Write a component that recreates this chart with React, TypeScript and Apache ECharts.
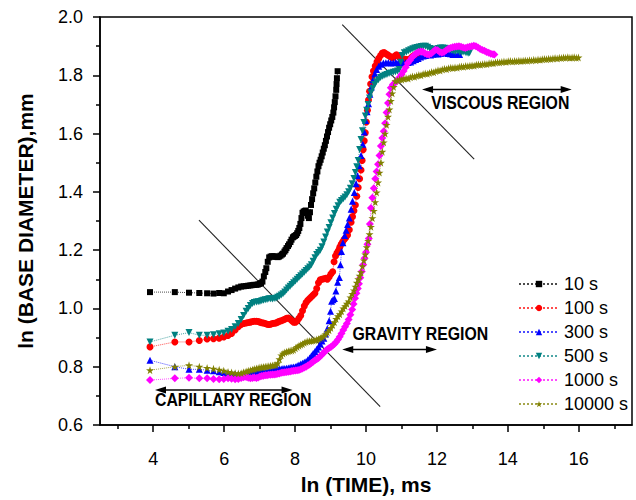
import React, { useEffect, useRef } from "react";
import * as echarts from "echarts";

const seriesNames = ["10 s", "100 s", "300 s", "500 s", "1000 s", "10000 s"];
const seriesColors = ["#000000", "#ff0000", "#0000ff", "#008080", "#ff00ff", "#808000"];

const xMajorTicks = [4, 6, 8, 10, 12, 14, 16];
const xMinorTicks = [3, 5, 7, 9, 11, 13, 15, 17];

// ln(time) vs ln(base diameter)
const s10 = [[3.91,1.056],[4.61,1.056],[5.01,1.054],[5.30,1.053],[5.52,1.052],[5.70,1.051],[5.86,1.053],[5.99,1.052],[6.11,1.058],[6.21,1.063],[6.31,1.068],[6.40,1.072],[6.48,1.075],[6.55,1.076],[6.62,1.077],[6.68,1.078],[6.74,1.079],[6.80,1.080],[6.85,1.081],[6.91,1.081],[6.95,1.082],[7.00,1.084],[7.04,1.087],[7.08,1.092],[7.12,1.110],[7.16,1.125],[7.19,1.138],[7.23,1.160],[7.27,1.175],[7.31,1.178],[7.35,1.179],[7.39,1.179],[7.43,1.178],[7.47,1.177],[7.51,1.176],[7.55,1.178],[7.59,1.181],[7.63,1.185],[7.66,1.188],[7.70,1.195],[7.73,1.200],[7.76,1.207],[7.80,1.214],[7.83,1.220],[7.87,1.228],[7.90,1.236],[7.94,1.244],[7.97,1.247],[8.00,1.249],[8.03,1.252],[8.06,1.258],[8.09,1.266],[8.12,1.276],[8.15,1.290],[8.18,1.310],[8.21,1.328],[8.24,1.332],[8.27,1.334],[8.30,1.336],[8.33,1.328],[8.36,1.318],[8.39,1.310],[8.42,1.330],[8.45,1.355],[8.48,1.375],[8.51,1.395],[8.54,1.412],[8.57,1.432],[8.60,1.452],[8.63,1.470],[8.66,1.488],[8.69,1.500],[8.72,1.510],[8.75,1.522],[8.78,1.535],[8.81,1.548],[8.84,1.560],[8.87,1.575],[8.90,1.590],[8.93,1.605],[8.96,1.620],[8.99,1.632],[9.02,1.645],[9.05,1.657],[9.08,1.672],[9.10,1.690],[9.12,1.708],[9.14,1.728],[9.16,1.750],[9.17,1.770],[9.18,1.790],[9.20,1.814]];

const s100 = [[3.91,0.868],[4.61,0.885],[5.01,0.885],[5.30,0.890],[5.52,0.895],[5.70,0.896],[5.86,0.898],[5.99,0.902],[6.11,0.907],[6.21,0.914],[6.31,0.926],[6.40,0.937],[6.48,0.945],[6.55,0.948],[6.62,0.950],[6.68,0.952],[6.74,0.953],[6.80,0.955],[6.85,0.956],[6.91,0.956],[6.96,0.955],[7.01,0.953],[7.06,0.951],[7.11,0.950],[7.16,0.948],[7.21,0.946],[7.26,0.945],[7.31,0.946],[7.36,0.948],[7.41,0.949],[7.46,0.950],[7.51,0.953],[7.56,0.956],[7.61,0.958],[7.66,0.960],[7.71,0.963],[7.76,0.966],[7.81,0.967],[7.86,0.964],[7.91,0.958],[7.96,0.953],[8.01,0.953],[8.06,0.958],[8.11,0.966],[8.16,0.976],[8.21,0.992],[8.26,1.008],[8.31,1.020],[8.36,1.028],[8.41,1.034],[8.46,1.040],[8.51,1.046],[8.56,1.052],[8.61,1.068],[8.66,1.088],[8.71,1.098],[8.76,1.100],[8.81,1.102],[8.86,1.103],[8.91,1.100],[8.96,1.108],[9.01,1.118],[9.06,1.126],[9.10,1.160],[9.14,1.180],[9.18,1.190],[9.22,1.198],[9.26,1.210],[9.30,1.220],[9.34,1.228],[9.38,1.236],[9.43,1.243],[9.48,1.252],[9.53,1.270],[9.58,1.296],[9.62,1.315],[9.66,1.335],[9.70,1.355],[9.74,1.385],[9.78,1.415],[9.82,1.445],[9.86,1.475],[9.89,1.508],[9.92,1.545],[9.95,1.575],[9.98,1.603],[10.01,1.640],[10.04,1.680],[10.07,1.715],[10.10,1.745],[10.13,1.770],[10.17,1.795],[10.21,1.815],[10.26,1.832],[10.31,1.846],[10.36,1.858],[10.41,1.868],[10.46,1.876],[10.51,1.878],[10.56,1.874],[10.61,1.870],[10.66,1.866],[10.71,1.862],[10.76,1.860],[10.81,1.866],[10.86,1.870],[10.91,1.866],[10.96,1.860],[11.01,1.856],[11.06,1.854],[11.11,1.855],[11.16,1.853],[11.21,1.854],[11.26,1.858],[11.31,1.864],[11.36,1.869],[11.41,1.872],[11.46,1.870]];

const s300 = [[3.91,0.822],[4.61,0.800],[5.01,0.791],[5.30,0.791],[5.52,0.788],[5.70,0.786],[5.86,0.783],[5.99,0.780],[6.11,0.778],[6.21,0.777],[6.31,0.775],[6.40,0.773],[6.48,0.774],[6.55,0.776],[6.62,0.777],[6.68,0.778],[6.74,0.779],[6.80,0.780],[6.85,0.781],[6.91,0.782],[6.96,0.782],[7.01,0.781],[7.06,0.783],[7.11,0.782],[7.16,0.782],[7.21,0.783],[7.26,0.785],[7.31,0.786],[7.36,0.788],[7.41,0.790],[7.46,0.791],[7.51,0.792],[7.56,0.793],[7.61,0.792],[7.66,0.794],[7.71,0.794],[7.76,0.795],[7.81,0.796],[7.86,0.797],[7.91,0.798],[7.96,0.799],[8.01,0.800],[8.06,0.803],[8.11,0.806],[8.16,0.809],[8.21,0.812],[8.26,0.815],[8.31,0.818],[8.36,0.824],[8.41,0.830],[8.46,0.838],[8.51,0.845],[8.56,0.852],[8.61,0.860],[8.66,0.868],[8.71,0.878],[8.76,0.888],[8.81,0.898],[8.86,0.912],[8.91,0.930],[8.96,0.958],[9.00,0.990],[9.03,1.025],[9.07,1.030],[9.11,1.034],[9.15,1.060],[9.20,1.090],[9.25,1.106],[9.28,1.150],[9.31,1.195],[9.35,1.225],[9.40,1.250],[9.44,1.268],[9.48,1.288],[9.53,1.310],[9.58,1.340],[9.62,1.368],[9.67,1.398],[9.72,1.428],[9.76,1.455],[9.81,1.490],[9.86,1.525],[9.91,1.563],[9.95,1.605],[9.99,1.645],[10.03,1.675],[10.07,1.702],[10.11,1.735],[10.15,1.760],[10.20,1.785],[10.25,1.805],[10.30,1.820],[10.36,1.831],[10.42,1.838],[10.49,1.842],[10.56,1.843],[10.63,1.844],[10.70,1.842],[10.77,1.843],[10.84,1.845],[10.91,1.843],[10.98,1.841],[11.05,1.843],[11.12,1.844],[11.19,1.844],[11.26,1.846],[11.33,1.850],[11.40,1.854],[11.47,1.858],[11.54,1.863],[11.61,1.866],[11.68,1.868],[11.75,1.871],[11.82,1.870],[11.89,1.872],[11.96,1.874],[12.03,1.873],[12.10,1.875],[12.17,1.877],[12.24,1.877],[12.31,1.875],[12.38,1.874],[12.45,1.871],[12.52,1.871],[12.59,1.872],[12.64,1.871]];

const s500 = [[3.91,0.885],[4.61,0.908],[5.01,0.917],[5.30,0.908],[5.52,0.908],[5.70,0.910],[5.86,0.913],[5.99,0.916],[6.11,0.922],[6.21,0.928],[6.31,0.937],[6.40,0.948],[6.48,0.962],[6.55,0.976],[6.62,0.990],[6.68,1.000],[6.74,1.010],[6.80,1.017],[6.85,1.020],[6.91,1.022],[6.96,1.023],[7.01,1.024],[7.06,1.026],[7.11,1.028],[7.16,1.030],[7.21,1.031],[7.26,1.033],[7.31,1.033],[7.36,1.032],[7.41,1.034],[7.46,1.035],[7.51,1.038],[7.56,1.042],[7.61,1.046],[7.66,1.050],[7.71,1.056],[7.76,1.063],[7.81,1.070],[7.86,1.076],[7.91,1.082],[7.96,1.088],[8.01,1.094],[8.06,1.100],[8.11,1.106],[8.16,1.112],[8.21,1.118],[8.26,1.124],[8.31,1.130],[8.36,1.136],[8.41,1.142],[8.46,1.150],[8.51,1.162],[8.56,1.174],[8.61,1.185],[8.66,1.192],[8.71,1.200],[8.76,1.212],[8.81,1.228],[8.86,1.245],[8.91,1.262],[8.96,1.278],[9.01,1.294],[9.06,1.310],[9.11,1.326],[9.16,1.340],[9.21,1.352],[9.26,1.364],[9.31,1.370],[9.36,1.376],[9.41,1.382],[9.46,1.390],[9.51,1.400],[9.56,1.412],[9.61,1.428],[9.66,1.446],[9.70,1.466],[9.74,1.486],[9.78,1.508],[9.82,1.545],[9.86,1.580],[9.90,1.610],[9.94,1.638],[9.98,1.660],[10.02,1.680],[10.06,1.700],[10.10,1.722],[10.14,1.740],[10.19,1.755],[10.24,1.768],[10.29,1.778],[10.35,1.785],[10.41,1.792],[10.47,1.797],[10.53,1.800],[10.59,1.803],[10.65,1.806],[10.71,1.808],[10.77,1.810],[10.83,1.812],[10.89,1.815],[10.94,1.820],[10.98,1.845],[11.02,1.868],[11.08,1.877],[11.14,1.880],[11.20,1.884],[11.26,1.888],[11.32,1.891],[11.38,1.894],[11.44,1.895],[11.50,1.897],[11.56,1.899],[11.62,1.900],[11.68,1.900],[11.74,1.896],[11.80,1.892],[11.86,1.889],[11.92,1.888],[11.98,1.889],[12.04,1.892],[12.10,1.894],[12.16,1.894],[12.22,1.893],[12.28,1.892],[12.34,1.889],[12.40,1.886],[12.46,1.883],[12.52,1.882],[12.58,1.884],[12.64,1.880],[12.70,1.878],[12.76,1.880],[12.82,1.877],[12.88,1.876],[12.92,1.877]];

const s1000 = [[3.91,0.754],[4.61,0.760],[5.01,0.762],[5.30,0.760],[5.52,0.760],[5.70,0.758],[5.86,0.757],[5.99,0.758],[6.11,0.760],[6.21,0.759],[6.31,0.757],[6.40,0.758],[6.48,0.761],[6.55,0.764],[6.62,0.765],[6.68,0.762],[6.74,0.760],[6.80,0.761],[6.85,0.763],[6.91,0.761],[6.96,0.763],[7.01,0.766],[7.06,0.768],[7.11,0.769],[7.16,0.771],[7.21,0.771],[7.26,0.772],[7.31,0.772],[7.36,0.773],[7.41,0.773],[7.46,0.774],[7.51,0.776],[7.56,0.777],[7.61,0.779],[7.66,0.780],[7.71,0.781],[7.76,0.782],[7.81,0.783],[7.86,0.784],[7.91,0.785],[7.96,0.786],[8.01,0.787],[8.06,0.788],[8.11,0.789],[8.16,0.791],[8.21,0.794],[8.26,0.797],[8.31,0.800],[8.36,0.804],[8.41,0.808],[8.46,0.813],[8.51,0.817],[8.56,0.822],[8.61,0.826],[8.66,0.830],[8.71,0.836],[8.76,0.842],[8.81,0.848],[8.86,0.855],[8.91,0.860],[8.96,0.864],[9.01,0.868],[9.06,0.873],[9.11,0.878],[9.16,0.885],[9.21,0.893],[9.26,0.903],[9.31,0.914],[9.36,0.926],[9.41,0.937],[9.46,0.948],[9.51,0.962],[9.56,0.978],[9.61,0.996],[9.65,1.015],[9.69,1.035],[9.73,1.052],[9.77,1.068],[9.80,1.085],[9.84,1.105],[9.88,1.127],[9.92,1.150],[9.96,1.172],[10.00,1.193],[10.04,1.220],[10.08,1.240],[10.11,1.290],[10.14,1.345],[10.18,1.380],[10.22,1.412],[10.26,1.445],[10.30,1.470],[10.34,1.495],[10.38,1.525],[10.42,1.557],[10.46,1.585],[10.50,1.608],[10.54,1.635],[10.58,1.672],[10.62,1.705],[10.66,1.735],[10.70,1.757],[10.76,1.768],[10.82,1.774],[10.88,1.782],[10.94,1.792],[11.00,1.803],[11.06,1.815],[11.12,1.828],[11.18,1.842],[11.24,1.852],[11.30,1.862],[11.36,1.870],[11.42,1.876],[11.48,1.880],[11.54,1.882],[11.60,1.881],[11.66,1.876],[11.72,1.872],[11.78,1.871],[11.84,1.875],[11.90,1.882],[11.96,1.888],[12.02,1.886],[12.08,1.880],[12.14,1.877],[12.20,1.880],[12.26,1.886],[12.32,1.891],[12.38,1.894],[12.44,1.896],[12.50,1.898],[12.56,1.899],[12.62,1.900],[12.68,1.898],[12.74,1.895],[12.80,1.894],[12.86,1.896],[12.92,1.898],[12.98,1.900],[13.04,1.901],[13.10,1.900],[13.16,1.895],[13.22,1.890],[13.28,1.887],[13.34,1.884],[13.40,1.880],[13.46,1.877],[13.52,1.874],[13.58,1.872],[13.62,1.871]];

const s10000 = [[3.91,0.788],[4.61,0.800],[5.01,0.805],[5.30,0.800],[5.52,0.796],[5.70,0.793],[5.86,0.790],[5.99,0.786],[6.11,0.782],[6.21,0.780],[6.31,0.778],[6.40,0.777],[6.48,0.778],[6.55,0.781],[6.62,0.784],[6.68,0.786],[6.74,0.788],[6.80,0.790],[6.85,0.792],[6.91,0.794],[6.96,0.795],[7.01,0.797],[7.06,0.798],[7.11,0.799],[7.16,0.800],[7.21,0.801],[7.26,0.802],[7.31,0.803],[7.36,0.804],[7.41,0.805],[7.46,0.806],[7.51,0.812],[7.56,0.826],[7.61,0.839],[7.66,0.845],[7.71,0.849],[7.76,0.851],[7.81,0.853],[7.86,0.855],[7.91,0.856],[7.96,0.858],[8.01,0.863],[8.06,0.868],[8.11,0.872],[8.16,0.875],[8.21,0.878],[8.26,0.882],[8.31,0.885],[8.36,0.887],[8.41,0.888],[8.46,0.889],[8.51,0.890],[8.56,0.891],[8.61,0.893],[8.66,0.895],[8.71,0.898],[8.76,0.901],[8.81,0.905],[8.86,0.911],[8.91,0.918],[8.96,0.925],[9.01,0.933],[9.06,0.943],[9.11,0.953],[9.16,0.964],[9.21,0.973],[9.26,0.980],[9.31,0.990],[9.36,1.000],[9.41,1.008],[9.46,1.016],[9.51,1.024],[9.56,1.038],[9.61,1.050],[9.66,1.062],[9.70,1.075],[9.74,1.088],[9.78,1.100],[9.82,1.112],[9.86,1.124],[9.90,1.145],[9.94,1.165],[9.98,1.185],[10.02,1.210],[10.06,1.232],[10.10,1.255],[10.14,1.280],[10.18,1.310],[10.22,1.335],[10.26,1.365],[10.30,1.398],[10.34,1.432],[10.38,1.466],[10.42,1.500],[10.46,1.538],[10.50,1.570],[10.54,1.600],[10.58,1.630],[10.62,1.658],[10.66,1.683],[10.70,1.712],[10.74,1.738],[10.78,1.760],[10.83,1.780],[10.89,1.782],[10.95,1.786],[11.01,1.785],[11.07,1.788],[11.13,1.790],[11.19,1.789],[11.25,1.793],[11.31,1.796],[11.37,1.795],[11.43,1.798],[11.49,1.801],[11.55,1.800],[11.61,1.804],[11.67,1.806],[11.73,1.805],[11.79,1.808],[11.85,1.811],[11.91,1.810],[11.97,1.814],[12.03,1.817],[12.09,1.816],[12.15,1.820],[12.21,1.822],[12.27,1.821],[12.33,1.824],[12.39,1.826],[12.45,1.825],[12.51,1.827],[12.57,1.826],[12.63,1.829],[12.69,1.830],[12.75,1.829],[12.81,1.832],[12.87,1.831],[12.93,1.833],[12.99,1.834],[13.05,1.833],[13.11,1.836],[13.17,1.837],[13.23,1.836],[13.29,1.838],[13.35,1.839],[13.41,1.838],[13.47,1.841],[13.53,1.842],[13.59,1.841],[13.65,1.844],[13.71,1.845],[13.77,1.844],[13.83,1.846],[13.89,1.847],[13.95,1.846],[14.01,1.848],[14.07,1.849],[14.13,1.847],[14.19,1.849],[14.25,1.848],[14.31,1.850],[14.37,1.849],[14.43,1.850],[14.49,1.851],[14.55,1.850],[14.61,1.852],[14.67,1.851],[14.73,1.853],[14.79,1.852],[14.85,1.854],[14.91,1.853],[14.97,1.855],[15.03,1.856],[15.09,1.855],[15.15,1.857],[15.21,1.856],[15.27,1.858],[15.33,1.859],[15.39,1.858],[15.45,1.860],[15.51,1.859],[15.57,1.861],[15.63,1.860],[15.69,1.862],[15.75,1.860],[15.81,1.861],[15.87,1.862],[15.93,1.860],[15.99,1.861]];

const seriesData = [s10, s100, s300, s500, s1000, s10000];
const STAR = "path://M50,0 L61,35 L98,35 L68,57 L79,91 L50,70 L21,91 L32,57 L2,35 L39,35 Z";
const seriesSymbols = ["rect", "circle", "triangle", "triangle", "diamond", STAR];
const seriesSymbolRotate = [0, 0, 0, 180, 0, 0];
const seriesSymbolSize = [6, 7, 7, 7, 8, 8];

// annotation geometry in data coordinates
const diagLines = [
  [[9.33, 1.974], [13.05, 1.512]],
  [[5.29, 1.303], [10.40, 0.663]],
];
const arrows = [
  [[11.58, 1.751], [15.80, 1.751]],
  [[9.33, 0.859], [12.0, 0.859]],
  [[4.05, 0.72], [7.93, 0.72]],
];
const regionLabels = [
  { text: "VISCOUS REGION", at: [11.84, 1.706] },
  { text: "GRAVITY REGION", at: [9.62, 0.91] },
  { text: "CAPILLARY REGION", at: [4.05, 0.684] },
];

const FONT = "'Liberation Sans', Arial, Helvetica, sans-serif";

export default function App() {
  const ref = useRef<HTMLDivElement>(null);
  useEffect(() => {
    const chart = echarts.init(ref.current!, null, { renderer: "svg" });
    const option: any = {
      animation: false,
      backgroundColor: "#ffffff",
      textStyle: { fontFamily: FONT },
      grid: {
        left: 100, right: 4, top: 17, bottom: 73,
        show: true, borderColor: "#000", borderWidth: 1.5, backgroundColor: "transparent",
      },
      legend: {
        orient: "vertical",
        left: 513,
        top: 270,
        itemWidth: 40,
        itemHeight: 8,
        itemGap: 6,
        textStyle: { fontSize: 18, color: "#000", fontFamily: FONT },
        data: seriesNames,
      },
      xAxis: [
        {
          type: "value", min: 2.5, max: 17.5,
          name: "ln (TIME), ms", nameLocation: "middle", nameGap: 49,
          nameTextStyle: { fontSize: 21, fontWeight: "bold", color: "#000", fontFamily: FONT },
          axisLine: { show: true, lineStyle: { color: "#000", width: 1.5 } },
          axisTick: { show: true, inside: false, length: 7, customValues: xMajorTicks, lineStyle: { color: "#000", width: 1.5 } },
          axisLabel: { show: true, customValues: xMajorTicks, margin: 25, fontSize: 18, color: "#000", fontFamily: FONT },
          splitLine: { show: false },
        },
        {
          type: "value", min: 2.5, max: 17.5, position: "bottom",
          axisLine: { show: false },
          axisTick: { show: true, inside: false, length: 4, customValues: xMinorTicks, lineStyle: { color: "#000", width: 1.5 } },
          axisLabel: { show: false },
          splitLine: { show: false },
        },
      ],
      yAxis: {
        type: "value", min: 0.6, max: 2.0, interval: 0.2,
        name: "ln (BASE DIAMETER),mm", nameLocation: "middle", nameGap: 64,
        nameTextStyle: { fontSize: 21, fontWeight: "bold", color: "#000", fontFamily: FONT },
        axisLine: { show: true, lineStyle: { color: "#000", width: 1.5 } },
        axisTick: { show: true, inside: false, length: 7, lineStyle: { color: "#000", width: 1.5 } },
        minorTick: { show: true, splitNumber: 2, length: 4, lineStyle: { color: "#000", width: 1.5 } },
        axisLabel: { margin: 17, fontSize: 18, color: "#000", fontFamily: FONT, formatter: (v: number) => v.toFixed(1) },
        splitLine: { show: false },
        minorSplitLine: { show: false },
      },
      series: seriesNames.map((name, i) => ({
        name,
        type: "line",
        xAxisIndex: 0,
        yAxisIndex: 0,
        data: seriesData[i],
        symbol: seriesSymbols[i],
        symbolSize: seriesSymbolSize[i],
        symbolRotate: seriesSymbolRotate[i],
        showAllSymbol: true,
        color: seriesColors[i],
        itemStyle: { color: seriesColors[i] },
        lineStyle: { color: seriesColors[i], width: 1, type: "dotted", opacity: 0.7 },
        emphasis: { disabled: true },
        silent: true,
      })),
    };
    chart.setOption(option);

    const px = (p: number[]) => chart.convertToPixel({ xAxisIndex: 0, yAxisIndex: 0 }, p) as number[];
    const elements: any[] = [];
    diagLines.forEach(([a, b]) => {
      const p1 = px(a), p2 = px(b);
      elements.push({ type: "line", shape: { x1: p1[0], y1: p1[1], x2: p2[0], y2: p2[1] }, style: { stroke: "#222", lineWidth: 1.1 }, silent: true });
    });
    arrows.forEach(([a, b]) => {
      const p1 = px(a), p2 = px(b);
      const y = p1[1];
      elements.push({ type: "line", shape: { x1: p1[0] + 4, y1: y, x2: p2[0] - 4, y2: y }, style: { stroke: "#000", lineWidth: 1.6 }, silent: true });
      elements.push({ type: "polygon", shape: { points: [[p1[0], y], [p1[0] + 11, y - 3.5], [p1[0] + 11, y + 3.5]] }, style: { fill: "#000" }, silent: true });
      elements.push({ type: "polygon", shape: { points: [[p2[0], y], [p2[0] - 11, y - 3.5], [p2[0] - 11, y + 3.5]] }, style: { fill: "#000" }, silent: true });
    });
    regionLabels.forEach((l) => {
      const p = px(l.at);
      elements.push({
        type: "text", x: p[0], y: p[1], scaleX: 0.88, silent: true,
        style: { text: l.text, font: `bold 18px ${FONT}`, fill: "#000", textAlign: "left", textVerticalAlign: "middle" },
      });
    });
    chart.setOption({ graphic: { elements } });

    return () => chart.dispose();
  }, []);
  return <div ref={ref} style={{ position: "fixed", left: 0, top: 0, width: 636, height: 500 }} />;
}
